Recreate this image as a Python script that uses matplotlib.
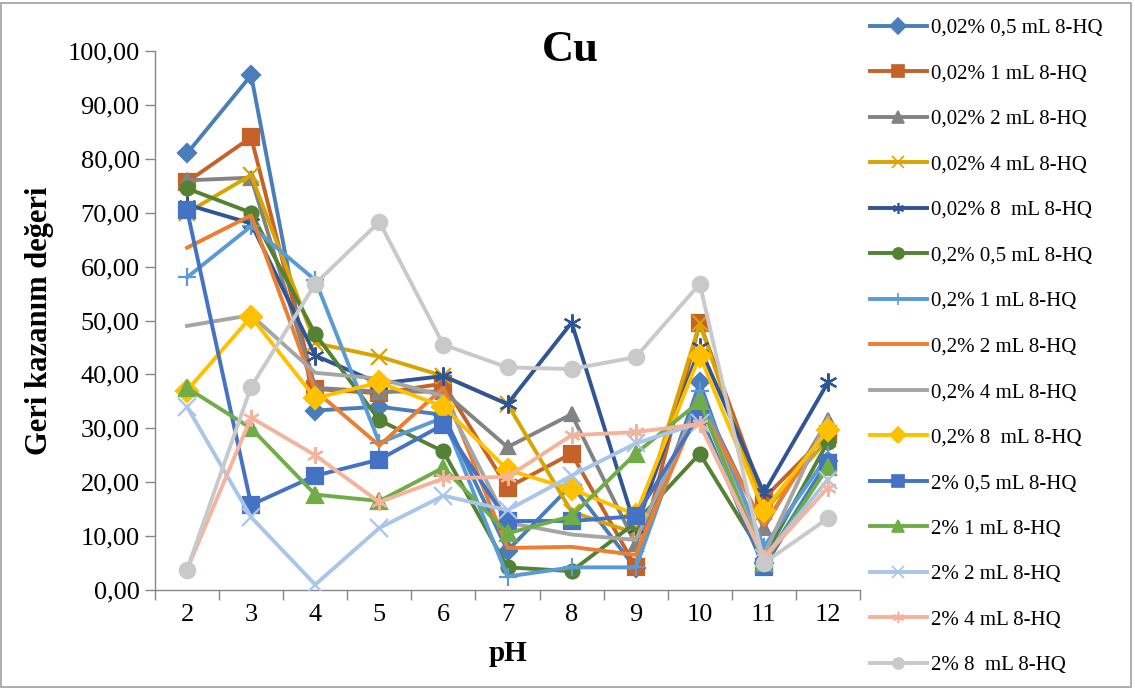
import matplotlib
matplotlib.use("Agg")
import matplotlib.pyplot as plt
from matplotlib.lines import Line2D
from matplotlib.patches import Rectangle

plt.rcParams['font.family'] = ['Liberation Serif', 'DejaVu Serif']

ph = [2, 3, 4, 5, 6, 7, 8, 9, 10, 11, 12]

labels = ["0,02% 0,5 mL 8-HQ", "0,02% 1 mL 8-HQ", "0,02% 2 mL 8-HQ", "0,02% 4 mL 8-HQ",
          "0,02% 8  mL 8-HQ", "0,2% 0,5 mL 8-HQ", "0,2% 1 mL 8-HQ", "0,2% 2 mL 8-HQ",
          "0,2% 4 mL 8-HQ", "0,2% 8  mL 8-HQ", "2% 0,5 mL 8-HQ", "2% 1 mL 8-HQ",
          "2% 2 mL 8-HQ", "2% 4 mL 8-HQ", "2% 8  mL 8-HQ"]

s1 = [81.0, 95.5, 33.3, 34.0, 32.5, 7.3, 19.5, 4.0, 38.5, 5.0, 24.0]
s2 = [75.7, 84.0, 37.3, 36.5, 38.3, 19.0, 25.3, 4.3, 49.5, 17.0, 29.0]
s3 = [76.0, 76.5, 37.5, 36.8, 36.8, 26.5, 32.6, 8.5, 36.0, 11.5, 31.5]
s4 = [70.0, 77.0, 45.8, 43.3, 39.7, 34.5, 14.5, 10.5, 49.5, 14.5, 28.0]
s5 = [71.5, 68.0, 43.5, 38.3, 39.7, 34.5, 49.6, 11.5, 45.0, 18.0, 38.5]
s6 = [74.5, 70.0, 47.5, 31.5, 25.7, 4.2, 3.5, 12.5, 25.3, 6.0, 27.5]
s7 = [58.0, 67.5, 57.5, 27.3, 32.0, 2.5, 4.2, 4.2, 37.0, 8.0, 25.0]
s8 = [63.5, 69.5, 37.0, 26.8, 37.5, 7.8, 8.0, 6.5, 34.5, 12.0, 30.5]
s9 = [49.0, 51.0, 40.3, 39.2, 36.0, 12.5, 10.3, 9.3, 35.0, 6.5, 32.0]
s10 = [37.0, 50.7, 35.6, 38.5, 34.0, 22.3, 18.7, 14.0, 43.5, 14.7, 29.7]
s11 = [70.5, 15.8, 21.2, 24.2, 30.7, 12.8, 12.8, 13.7, 32.5, 4.2, 23.5]
s12 = [37.5, 30.0, 17.7, 16.5, 22.7, 10.5, 13.7, 25.3, 35.0, 5.0, 22.8]
s13 = [34.0, 13.5, 1.0, 11.5, 17.5, 14.8, 21.2, 27.2, 31.0, 6.0, 20.5]
s14 = [3.8, 32.0, 25.0, 16.3, 20.7, 21.0, 28.7, 29.3, 30.8, 6.0, 19.0]
s15 = [3.8, 37.7, 56.8, 68.3, 45.5, 41.3, 41.0, 43.2, 56.8, 5.0, 13.3]

series = [s1, s2, s3, s4, s5, s6, s7, s8, s9, s10, s11, s12, s13, s14, s15]

colors = ['#4a7ebb', '#c5622a', '#838383', '#d9a300', '#2f5597', '#548235', '#5b9bd5',
          '#ed7d31', '#a5a5a5', '#ffc000', '#4472c4', '#70ad47', '#a9c5ea', '#f4b49c', '#c9c9c9']
star = (6, 2, 0)
markers = ['D', 's', '^', 'x', star, 'o', '+', None, None, 'D', 's', '^', 'x', star, 'o']
msizes = [9, 11, 10, 11, 13, 10, 13, 0, 9, 11, 11, 11, 13, 12, 11]

fig = plt.figure(figsize=(11.35, 6.88), dpi=100)
fig.patches.append(Rectangle((0.001, 0.001), 0.9955, 0.994, transform=fig.transFigure,
                             fill=False, edgecolor='#a0a0a0', linewidth=1.2))
ax = fig.add_axes([155/1135, 98/688, 705/1135, 539/688])

for i, (vals, c, m, ms) in enumerate(zip(series, colors, markers, msizes)):
    kw = {}
    if m is not None:
        kw = dict(marker=m, markersize=ms, markerfacecolor=c, markeredgecolor=c, markeredgewidth=1.6)
    ax.plot(ph, vals, color=c, linewidth=2.8, label=labels[i], zorder=2 + i, **kw)

ax.set_xlim(1.5, 12.5)
ax.set_ylim(0, 100)
ax.set_xticks(ph)
ax.set_xticklabels([str(p) for p in ph], fontsize=19)
ax.set_xticks([p + 0.5 for p in [1] + ph], minor=True)
ax.tick_params(axis='x', which='major', length=0, pad=10)
ax.tick_params(axis='x', which='minor', length=7, width=1, color='#868686', direction='out')
yt = list(range(0, 101, 10))
ax.set_yticks(yt)
ax.set_yticklabels([f"{v},00" for v in yt], fontsize=19)
ax.tick_params(axis='y', length=7, width=1, color='#868686', direction='out', pad=4)
for sp in ['top', 'right']:
    ax.spines[sp].set_visible(False)
for sp in ['left', 'bottom']:
    ax.spines[sp].set_color('#868686')
    ax.spines[sp].set_linewidth(1)

ax.set_ylabel("Geri kazanım değeri", fontsize=22, fontweight='bold', labelpad=10)
ax.set_xlabel("pH", fontsize=21, fontweight='bold', labelpad=10)
fig.text(570/1135, 1 - 50/688, "Cu", fontsize=32, fontweight='bold', ha='center', va='center')

handles = []
for i, (c, m) in enumerate(zip(colors, markers)):
    kw = {}
    if m is not None:
        kw = dict(marker=m, markersize=8, markerfacecolor=c, markeredgecolor=c, markeredgewidth=1.2)
    handles.append(Line2D([0], [0], color=c, linewidth=2.8, **kw))
fig.legend(handles, labels, loc='upper left', bbox_to_anchor=(862/1135, 1 - 10/688),
           frameon=False, fontsize=15, handlelength=2.7, handletextpad=0.2,
           labelspacing=1.245, borderaxespad=0)

fig.savefig("out.png", dpi=100)
